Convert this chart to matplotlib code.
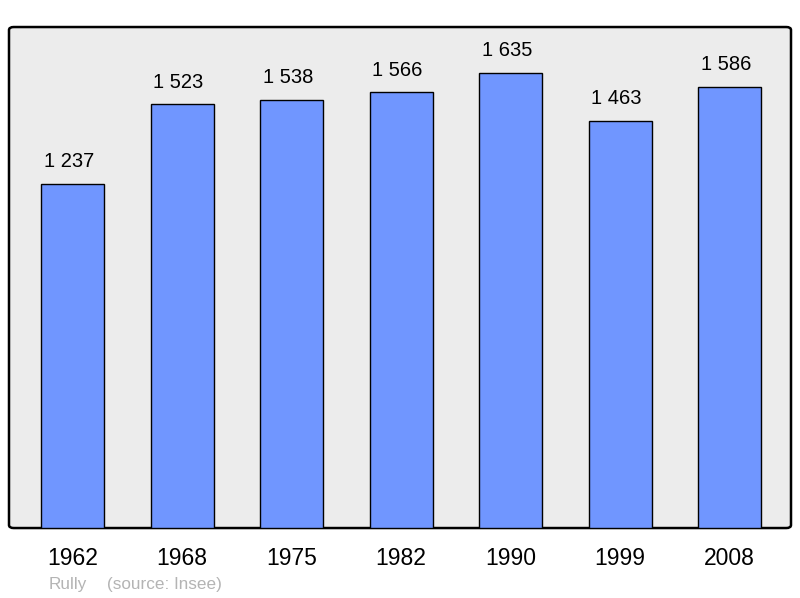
import matplotlib.pyplot as plt
from matplotlib.patches import FancyBboxPatch

plt.rcParams['font.family'] = ['Liberation Sans', 'DejaVu Sans']

annees = ['1962', '1968', '1975', '1982', '1990', '1999', '2008']
population = [1237, 1523, 1538, 1566, 1635, 1463, 1586]
etiquettes = ['1 237', '1 523', '1 538', '1 566', '1 635', '1 463', '1 586']

fig = plt.figure(figsize=(8, 5.98), dpi=100)
ax = fig.add_axes([0.01125, 0.117, 0.9775, 0.8378])
ax.set_facecolor('none')

# fond gris arrondi
fond = FancyBboxPatch((0, 0), 1, 1, boxstyle='round,pad=0,rounding_size=0.006',
                      transform=ax.transAxes, facecolor='#ececec', edgecolor='black',
                      linewidth=1.8, zorder=0, clip_on=False)
ax.add_patch(fond)

x = range(len(annees))
ax.bar(x, population, width=0.575, color='#7096ff', edgecolor='black', linewidth=1.0, zorder=2)

for i, (v, t) in enumerate(zip(population, etiquettes)):
    ax.annotate(t, (i, v), xytext=(-2.5, 9), textcoords='offset points',
                ha='center', va='bottom', fontsize=14.5, color='black')

ax.set_xlim(-0.58, 6.56)
ax.set_ylim(0, 1800)
ax.set_xticks(list(x))
ax.set_xticklabels(annees, fontsize=16.5)
ax.tick_params(axis='x', length=0, pad=14)
ax.set_yticks([])
for s in ax.spines.values():
    s.set_visible(False)

fig.text(49 / 800, 1 - 584 / 598, 'Rully', fontsize=12.3, color='#b4b4b4', va='center')
fig.text(107 / 800, 1 - 584 / 598, '(source: Insee)', fontsize=12.3, color='#b4b4b4', va='center')

fig.savefig('out.png', dpi=100)
